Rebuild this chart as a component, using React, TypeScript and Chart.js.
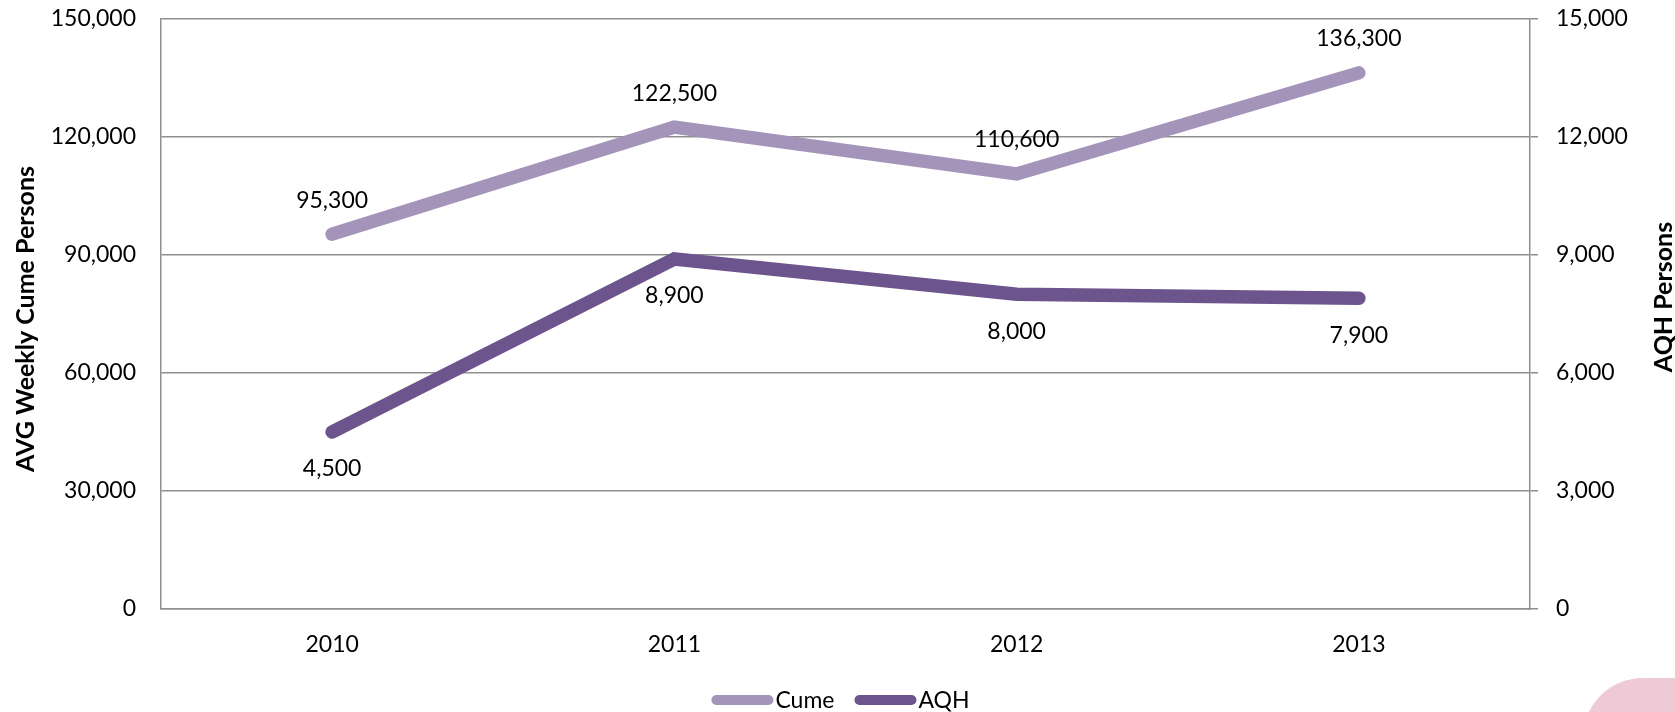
import React, { useEffect, useRef } from "react";
import { Chart, registerables } from "chart.js";

Chart.register(...registerables);

const categories = ["2010", "2011", "2012", "2013"];
const cumeValues = [95300, 122500, 110600, 136300];
const aqhValues = [4500, 8900, 8000, 7900];
const seriesNames = ["Cume", "AQH"];
const leftAxisTitle = "AVG Weekly Cume Persons";
const rightAxisTitle = "AQH Persons";
const leftMax = 150000;
const leftStep = 30000;
const rightMax = 15000;
const rightStep = 3000;

const CUME_COLOR = "#A594BA";
const AQH_COLOR = "#6C548D";
const GRID_COLOR = "#8F8F8F";
const FONT = 'Lato, "Open Sans", sans-serif';
const FONT_SIZE = 23;

const fmt = (v: number) => v.toLocaleString("en-US");

const labelOffsets = [-34, 37];

const overlayPlugin = {
  id: "overlay",
  afterDatasetsDraw(chart: any) {
    const ctx = chart.ctx;
    ctx.save();
    ctx.font = `${FONT_SIZE}px ${FONT}`;
    ctx.fillStyle = "#000";
    ctx.textAlign = "center";
    ctx.textBaseline = "middle";
    chart.data.datasets.forEach((ds: any, di: number) => {
      const meta = chart.getDatasetMeta(di);
      meta.data.forEach((pt: any, i: number) => {
        ctx.fillText(fmt(ds.data[i]), pt.x, pt.y + labelOffsets[di]);
      });
    });
    ctx.restore();
  },
  afterDraw(chart: any) {
    const ctx = chart.ctx;
    const drawTitle = (text: string, cx: number, cy: number, size: number) => {
      ctx.save();
      ctx.font = `bold ${size}px ${FONT}`;
      ctx.fillStyle = "#000";
      ctx.textAlign = "center";
      ctx.textBaseline = "middle";
      ctx.translate(cx, cy);
      ctx.rotate(-Math.PI / 2);
      ctx.fillText(text, 0, 0);
      ctx.restore();
    };
    drawTitle(leftAxisTitle, 26, 319, 25);
    drawTitle(rightAxisTitle, 1664, 297, 25);

    // legend
    ctx.save();
    ctx.font = `${FONT_SIZE}px ${FONT}`;
    ctx.textBaseline = "middle";
    ctx.textAlign = "left";
    const boxW = 62;
    const boxH = 10;
    const gapText = 2;
    const gapItem = 20;
    const colors = [CUME_COLOR, AQH_COLOR];
    const widths = seriesNames.map((n) => boxW + gapText + ctx.measureText(n).width);
    const total = widths.reduce((a, b) => a + b, 0) + gapItem * (widths.length - 1);
    let x = chart.width / 2 - total / 2 + 3;
    const y = 700;
    seriesNames.forEach((n, i) => {
      ctx.fillStyle = colors[i];
      ctx.beginPath();
      (ctx as any).roundRect(x, y - boxH / 2, boxW, boxH, boxH / 2);
      ctx.fill();
      ctx.fillStyle = "#000";
      ctx.fillText(n, x + boxW + gapText, y + 1);
      x += widths[i] + gapItem;
    });
    ctx.restore();
  },
};

export default function App() {
  const ref = useRef<HTMLCanvasElement | null>(null);

  useEffect(() => {
    document.body.style.margin = "0";
    if (!ref.current) return;
    const chart = new Chart(ref.current, {
      type: "line",
      data: {
        labels: categories,
        datasets: [
          {
            label: seriesNames[0],
            data: cumeValues,
            borderColor: CUME_COLOR,
            backgroundColor: CUME_COLOR,
            borderWidth: 13.5,
            borderCapStyle: "round",
            borderJoinStyle: "miter",
            pointRadius: 0,
            tension: 0,
            yAxisID: "y",
          },
          {
            label: seriesNames[1],
            data: aqhValues,
            borderColor: AQH_COLOR,
            backgroundColor: AQH_COLOR,
            borderWidth: 13.5,
            borderCapStyle: "round",
            borderJoinStyle: "miter",
            pointRadius: 0,
            tension: 0,
            yAxisID: "y1",
          },
        ],
      },
      options: {
        animation: false,
        responsive: false,
        layout: { autoPadding: false, padding: { top: 19, left: 0, right: 0, bottom: 0 } },
        plugins: {
          legend: { display: false },
          tooltip: { enabled: false },
          title: { display: false },
        },
        scales: {
          x: {
            offset: true,
            grid: { display: false, drawTicks: false },
            border: { display: true, color: GRID_COLOR, width: 1.5 },
            ticks: {
              color: "#000",
              font: { family: FONT, size: FONT_SIZE },
              padding: 22,
            },
            afterFit: (s: any) => {
              s.height = 103;
              s.paddingLeft = 0;
              s.paddingRight = 0;
            },
          },
          y: {
            position: "left",
            min: 0,
            max: leftMax,
            grid: { color: GRID_COLOR, lineWidth: 1.5, drawTicks: false },
            border: { display: true, color: GRID_COLOR, width: 1.5 },
            ticks: {
              stepSize: leftStep,
              color: "#000",
              padding: 25,
              font: { family: FONT, size: FONT_SIZE },
              callback: (v: any) => fmt(Number(v)),
            },
            afterFit: (s: any) => {
              s.width = 161;
              s.paddingTop = 0;
              s.paddingBottom = 0;
            },
          },
          y1: {
            position: "right",
            min: 0,
            max: rightMax,
            grid: {
              drawOnChartArea: false,
              drawTicks: true,
              tickLength: 8,
              color: GRID_COLOR,
              lineWidth: 1.5,
            },
            border: { display: true, color: GRID_COLOR, width: 1.5 },
            ticks: {
              stepSize: rightStep,
              color: "#000",
              padding: 18,
              font: { family: FONT, size: FONT_SIZE },
              callback: (v: any) => fmt(Number(v)),
            },
            afterFit: (s: any) => {
              s.width = 145;
              s.paddingTop = 0;
              s.paddingBottom = 0;
            },
          },
        },
      },
      plugins: [overlayPlugin],
    });
    return () => chart.destroy();
  }, []);

  return (
    <div style={{ position: "relative", width: 1675, height: 712, overflow: "hidden", background: "#fff" }}>
      <div
        style={{
          position: "absolute",
          left: 1583,
          top: 678,
          width: 200,
          height: 120,
          background: "#EDCAD6",
          borderTopLeftRadius: 60,
        }}
      />
      <canvas ref={ref} width={1675} height={712} style={{ display: "block", position: "relative" }} />
    </div>
  );
}
